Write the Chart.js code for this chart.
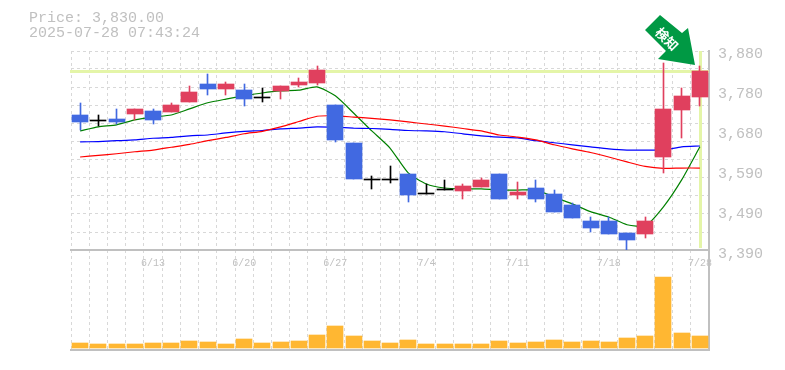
<!DOCTYPE html>
<html>
<head>
<meta charset="utf-8">
<script src="https://cdn.jsdelivr.net/npm/chart.js@4"></script>
<style>
html, body { margin: 0; padding: 0; background: #fff; overflow: hidden; }
#wrap { position: relative; width: 785px; height: 370px; }
canvas { position: absolute; left: 0; }
#priceChart { top: 0; z-index: 2; }
#volumeChart { top: 250px; z-index: 1; }
#info { position: absolute; left: 29px; top: 11px; z-index: 3; font: 15px/15px "Liberation Mono", monospace; color: #c0c0c0; white-space: pre; }
</style>
</head>
<body>
<div id="wrap">
<div id="info">Price: 3,830.00
2025-07-28 07:43:24</div>
<canvas id="volumeChart" width="785" height="120"></canvas>
<canvas id="priceChart" width="785" height="275"></canvas>
</div>
<script>
const dates = ['6/9','6/10','6/11','6/12','6/13','6/16','6/17','6/18','6/19','6/20','6/23','6/24','6/25','6/26','6/27','6/30','7/1','7/2','7/3','7/4','7/7','7/8','7/9','7/10','7/11','7/14','7/15','7/16','7/17','7/18','7/22','7/23','7/24','7/25','7/28']
const dateTicks = ['6/13','6/20','6/27','7/4','7/11','7/18','7/28']

const open = [3723,3708,3713,3726,3733,3730,3755,3799,3787,3784,3765,3782,3797,3802,3748,3655,3564,3564,3579,3530,3539,3537,3547,3579,3527,3544,3530,3503,3463,3463,3434,3432,3620,3735,3767]
const high = [3753,3723,3738,3738,3738,3753,3794,3824,3804,3799,3789,3794,3814,3843,3748,3655,3574,3598,3579,3554,3564,3554,3569,3579,3559,3564,3539,3508,3473,3473,3434,3473,3851,3789,3843]
const low = [3686,3696,3701,3711,3701,3730,3755,3772,3772,3745,3755,3762,3792,3797,3657,3566,3542,3557,3510,3530,3539,3517,3547,3517,3517,3510,3486,3471,3437,3432,3390,3422,3581,3667,3745]
const close = [3706,3708,3706,3738,3711,3748,3780,3787,3799,3762,3765,3794,3804,3833,3662,3566,3564,3564,3527,3530,3539,3549,3564,3517,3535,3517,3486,3471,3446,3432,3417,3463,3738,3770,3830]

const ma5 = [3684,3694,3699,3711,3718,3723,3738,3753,3762,3770,3777,3782,3784,3792,3770,3728,3684,3642,3581,3554,3544,3542,3542,3539,3539,3539,3522,3505,3486,3473,3454,3451,3498,3564,3645]
const ma25 = [3620,3624,3628,3633,3637,3644,3651,3660,3668,3677,3683,3694,3707,3720,3721,3718,3715,3711,3706,3701,3696,3690,3684,3674,3669,3662,3650,3640,3631,3620,3608,3597,3592,3593,3593]
const ma75 = [3657,3658,3660,3662,3666,3668,3672,3674,3679,3683,3685,3689,3691,3694,3693,3691,3690,3688,3685,3684,3682,3677,3672,3669,3667,3660,3655,3650,3645,3640,3637,3637,3637,3645,3647]

const volume = [50000,40000,40000,40000,50000,50000,70000,60000,40000,90000,50000,60000,70000,130000,220000,120000,70000,50000,80000,40000,40000,40000,40000,70000,50000,60000,80000,60000,70000,60000,100000,120000,710000,150000,120000]

const priceMin = 3392
const priceMax = 3880
const gridTicks = [3392,3436,3481,3525,3570,3614,3658,3703,3747,3791,3836,3880]
const labelTicks = [3390,3488,3586,3684,3782,3880]

const RED = '#e0405e'
const BLUE = '#4169e1'
const BLACK = '#000000'
const candleColor = close.map((c, i) => c > open[i] ? RED : c < open[i] ? BLUE : BLACK)
const GRID = '#d8d8d8'
const AXIS = '#c0c0c0'
const TEXT = '#c0c0c0'
const MONO = '"Liberation Mono", monospace'

// snap bars to whole pixels so they stay crisp
const snapBars = {
    id: 'snapBars',
    beforeDatasetsDraw(chart) {
        chart.data.datasets.forEach((ds, i) => {
            const meta = chart.getDatasetMeta(i)
            if (meta.type !== 'bar') return
            meta.data.forEach(el => {
                el.x = ds.wick ? Math.floor(el.x) + 0.5 : Math.round(el.x)
                el.y = Math.round(el.y)
                el.base = Math.round(el.base)
                if (el.y === el.base) el.base = el.y + 1
            })
        })
    }
}

// last price crosshair
const lastPrice = {
    id: 'lastPrice',
    beforeDatasetsDraw(chart) {
        const {ctx, chartArea, scales} = chart
        const y = Math.round(scales.y.getPixelForValue(close[close.length - 1]))
        const x = Math.round(scales.x.getPixelForValue(dates.length - 1))
        ctx.save()
        ctx.fillStyle = '#e4f5a8'
        ctx.fillRect(chartArea.left - 1, y - 1, chartArea.right - chartArea.left + 1, 3)
        ctx.fillRect(x - 1, chartArea.top, 3, chartArea.bottom - chartArea.top - 2)
        ctx.restore()
    }
}

const signalArrow = {
    id: 'signalArrow',
    afterDatasetsDraw(chart) {
        const {ctx} = chart
        const pts = [[660,15],[645,30],[666,51],[658,59],[695,65],[688,28],[682,33]]
        ctx.save()
        ctx.fillStyle = '#009944'
        ctx.beginPath()
        pts.forEach((p, i) => i ? ctx.lineTo(p[0], p[1]) : ctx.moveTo(p[0], p[1]))
        ctx.closePath()
        ctx.fill()
        ctx.translate(667, 39)
        ctx.rotate(Math.PI / 4)
        ctx.fillStyle = '#ffffff'
        ctx.font = 'bold 13px "Noto Sans CJK JP"'
        ctx.textAlign = 'center'
        ctx.textBaseline = 'middle'
        ctx.fillText('検知', 0, 0)
        ctx.restore()
    }
}

const lineSet = (data, color, width) => ({
    type: 'line',
    data: data,
    borderColor: color,
    borderWidth: width,
    pointRadius: 0,
    tension: 0.2,
    fill: false,
    order: 3
})

new Chart(document.getElementById('priceChart'), {
    data: {
        labels: dates,
        datasets: [
            lineSet(ma25, '#ff0000', 1.2),
            lineSet(ma75, '#0000ff', 1.2),
            lineSet(ma5, '#008000', 1.2),
            {
                type: 'bar',
                wick: true,
                grouped: false,
                data: high.map((h, i) => [low[i], h]),
                backgroundColor: candleColor,
                barThickness: 1,
                order: 2
            },
            {
                type: 'bar',
                grouped: false,
                data: open.map((o, i) => [o, close[i]]),
                backgroundColor: candleColor,
                barThickness: 16,
                minBarLength: 1,
                order: 1
            }
        ]
    },
    options: {
        responsive: false,
        animation: false,
        layout: { padding: { left: 71, top: 51 } },
        plugins: { legend: { display: false }, tooltip: { enabled: false } },
        scales: {
            x: {
                offset: true,
                afterFit: s => { s.height = 25 },
                border: { color: AXIS, width: 2, dash: [3, 3] },
                grid: { color: GRID, offset: true, drawTicks: false },
                ticks: {
                    autoSkip: false,
                    maxRotation: 0,
                    padding: 7,
                    color: TEXT,
                    font: { family: MONO, size: 10 },
                    callback: function (v) {
                        const d = this.getLabelForValue(v)
                        return dateTicks.includes(d) ? d : ''
                    }
                }
            },
            y: {
                position: 'left',
                min: priceMin,
                max: priceMax,
                afterFit: s => { s.width = 0 },
                afterBuildTicks: s => { s.ticks = gridTicks.map(v => ({ value: v })) },
                border: { display: false, dash: [3, 3] },
                grid: { color: GRID, drawTicks: false },
                ticks: { display: false }
            },
            yLabels: {
                position: 'right',
                min: priceMin,
                max: priceMax,
                afterFit: s => { s.width = 76 },
                afterBuildTicks: s => { s.ticks = labelTicks.map(v => ({ value: v })) },
                border: { color: AXIS, width: 2 },
                grid: { drawOnChartArea: false, drawTicks: false },
                ticks: {
                    padding: 9,
                    labelOffset: 3,
                    color: TEXT,
                    font: { family: MONO, size: 15 },
                    callback: v => (Math.round(v / 10) * 10).toLocaleString('en-US')
                }
            }
        }
    },
    plugins: [snapBars, lastPrice, signalArrow]
})

new Chart(document.getElementById('volumeChart'), {
    type: 'bar',
    data: {
        labels: dates,
        datasets: [{
            data: volume,
            backgroundColor: '#ffb732',
            barThickness: 16
        }]
    },
    options: {
        responsive: false,
        animation: false,
        layout: { padding: { left: 71, right: 76, bottom: 20 } },
        plugins: { legend: { display: false }, tooltip: { enabled: false } },
        scales: {
            x: {
                offset: true,
                afterFit: s => { s.height = 0 },
                border: { color: AXIS, width: 2, dash: [3, 3] },
                grid: { color: GRID, offset: true, drawTicks: false },
                ticks: { display: false, autoSkip: false }
            },
            y: {
                position: 'right',
                min: -20000,
                max: 980000,
                afterFit: s => { s.width = 0 },
                border: { color: AXIS, width: 2 },
                grid: { drawOnChartArea: false, drawTicks: false },
                ticks: { display: false }
            }
        }
    },
    plugins: [snapBars]
})
</script>
</body>
</html>
